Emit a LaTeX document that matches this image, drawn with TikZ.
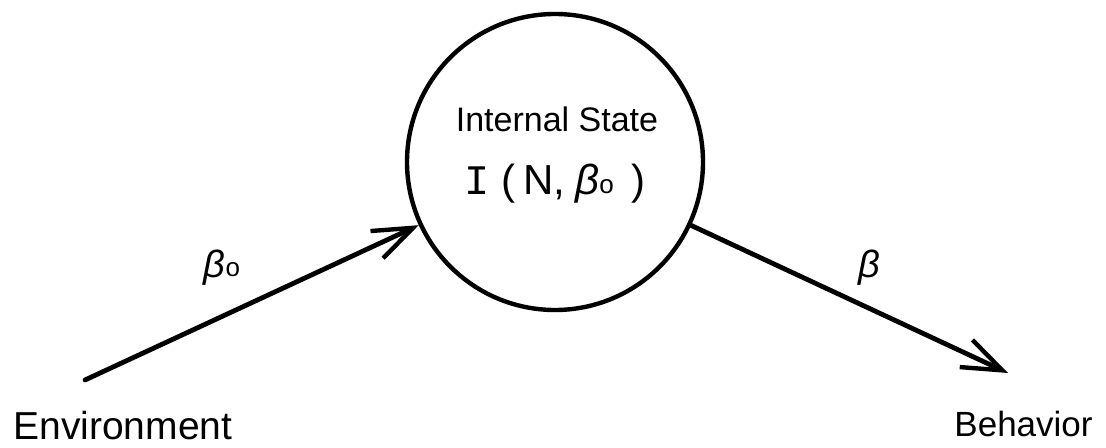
\documentclass[tikz,border=0pt]{standalone}
\usepackage{fontspec}
\setmainfont{Liberation Sans}
\newfontfamily\serifI{Liberation Mono}
\usetikzlibrary{arrows.meta}
\newcommand{\subo}{\raisebox{0.6pt}{\fontsize{13}{13}\selectfont\upshape o}}
\begin{document}
\begin{tikzpicture}[x=0.5pt,y=-0.5pt,
  flow/.style={line width=2.4pt, line cap=round,
    -{Straight Barb[length=20pt,width=15pt,line width=2.2pt]}},
  lab/.style={inner sep=0pt, anchor=base},
  big/.style={font=\fontsize{19.5}{20}\selectfont},
  mid/.style={font=\fontsize{17.5}{18}\selectfont}]
\useasboundingbox (0,0) rectangle (1106,448);

% the internal state
\node[circle, draw, line width=2.2pt, minimum size=148pt, inner sep=0pt] (state) at (555,162) {};
\node[lab, font=\fontsize{17}{17}\selectfont] (title) at (557,132) {Internal State};
\node[lab, font=\fontsize{21}{21}\selectfont] (func) at (555,195)
  {{\serifI I}\hspace{6pt}(\hspace{4pt}N,\hspace{5pt}{\itshape β}\subo\hspace{9pt})};

% input and output
\coordinate (src) at (85,380);
\coordinate (dst) at (1008,373);
\draw[flow] (src) -- (state);
\draw[flow] (state) -- (dst);

\node[lab, font=\fontsize{19}{19}\selectfont] (inlab) at (222,278) {{\itshape β}\subo};
\node[lab, font=\fontsize{19}{19}\selectfont] (outlab) at (869,278) {{\itshape β}};

\node[lab, big, anchor=base west] (env) at (13,439) {Environment};
\node[lab, mid, anchor=base east] (beh) at (1093,436) {Behavior};
\end{tikzpicture}
\end{document}
